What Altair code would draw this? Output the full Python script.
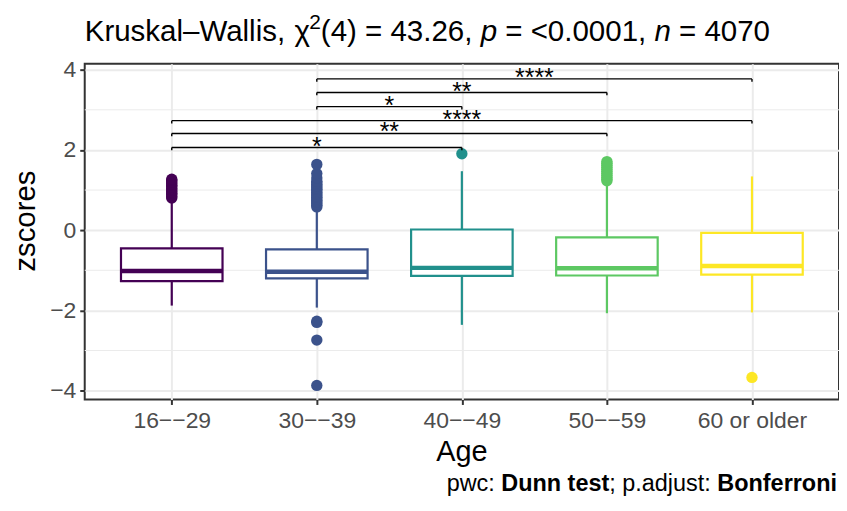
import altair as alt
import pandas as pd

# ---------------- data ----------------
groups = ["16−−29", "30−−39", "40−−49", "50−−59", "60 or older"]
colors = ["#440154", "#3B528B", "#21908C", "#5DC863", "#FDE725"]
q1 = [-1.27, -1.20, -1.14, -1.13, -1.11]
median = [-1.02, -1.035, -0.94, -0.95, -0.895]
q3 = [-0.455, -0.48, 0.017, -0.18, -0.066]
whisker_lo = [-1.88, -1.93, -2.36, -2.07, -2.05]
whisker_hi = [0.74, 0.52, 1.47, 1.12, 1.34]

outliers = {
    "16−−29": [0.80, 0.84, 0.88, 0.92, 0.96, 1.00, 1.04, 1.08, 1.12, 1.16, 1.20, 1.24, 1.27],
    "30−−39": [0.58, 0.62, 0.66, 0.70, 0.74, 0.78, 0.82, 0.86, 0.90, 0.94, 0.98, 1.02, 1.06,
               1.10, 1.14, 1.18, 1.22, 1.30, 1.41, 1.64, -2.27, -2.30, -2.74, -3.87],
    "40−−49": [1.905],
    "50−−59": [1.23, 1.27, 1.32, 1.37, 1.42, 1.47, 1.52, 1.57, 1.62, 1.67, 1.71],
    "60 or older": [-3.67],
}

# pairwise comparisons (Dunn test)
pair_g1 = ["30−−39", "30−−39", "30−−39", "16−−29", "16−−29", "16−−29"]
pair_g2 = ["60 or older", "50−−59", "40−−49", "60 or older", "50−−59", "40−−49"]
pair_y = [3.77, 3.43, 3.08, 2.73, 2.41, 2.06]
pair_label = ["****", "**", "*", "****", "**", "*"]

y_ticks = [-4, -2, 0, 2, 4]
y_minor = [-3, -1, 1, 3]

# ---------------- tables ----------------
idx_of = {g: i + 1 for i, g in enumerate(groups)}
box_df = pd.DataFrame({
    "group": groups, "idx": [idx_of[g] for g in groups],
    "q1": q1, "median": median, "q3": q3, "lo": whisker_lo, "hi": whisker_hi,
})
box_df["left"] = box_df["idx"] - 0.35
box_df["right"] = box_df["idx"] + 0.35

out_rows = []
for g, vals in outliers.items():
    for v in vals:
        out_rows.append({"group": g, "idx": idx_of[g], "value": v})
out_df = pd.DataFrame(out_rows)

pair_df = pd.DataFrame({"g1": pair_g1, "g2": pair_g2, "y": pair_y, "label": pair_label})
pair_df["x1"] = pair_df["g1"].map(idx_of)
pair_df["x2"] = pair_df["g2"].map(idx_of)
pair_df["xm"] = (pair_df["x1"] + pair_df["x2"]) / 2
pair_df["ytip"] = pair_df["y"] - 0.07

minor_df = pd.DataFrame({"v": y_minor})

FONT = "Liberation Sans"
color_scale = alt.Scale(domain=groups, range=colors)
xscale = alt.Scale(domain=[0.4, 5.6], nice=False, zero=False)
yscale = alt.Scale(domain=[-4.22, 4.15], nice=False, zero=False)

label_expr = "[" + ",".join("'%s'" % g for g in groups) + "][datum.value - 1]"
xaxis = alt.Axis(values=list(range(1, len(groups) + 1)), labelExpr=label_expr, title=None,
                 grid=True, gridColor="#EBEBEB", gridWidth=2, domain=False,
                 tickColor="#333333", tickWidth=2, tickSize=5,
                 labelColor="#4D4D4D", labelFontSize=23, labelFont=FONT, labelPadding=5)
yaxis = alt.Axis(values=y_ticks, format="d", title=None,
                 labelExpr="replace(datum.label, '-', '−')",
                 grid=True, gridColor="#EBEBEB", gridWidth=2, domain=False,
                 tickColor="#333333", tickWidth=2, tickSize=5,
                 labelColor="#4D4D4D", labelFontSize=23, labelFont=FONT, labelPadding=4)

col = alt.Color("group:N", scale=color_scale, legend=None)

minor = alt.Chart(minor_df).mark_rule(color="#EBEBEB", strokeWidth=1).encode(
    y=alt.Y("v:Q", scale=yscale, axis=yaxis))

base = alt.Chart(box_df)
wlo = base.mark_rule(strokeWidth=2.2).encode(
    x=alt.X("idx:Q", scale=xscale, axis=xaxis), y=alt.Y("lo:Q", scale=yscale), y2="q1:Q", color=col)
whi = base.mark_rule(strokeWidth=2.2).encode(
    x=alt.X("idx:Q", scale=xscale), y=alt.Y("q3:Q", scale=yscale), y2="hi:Q", color=col)
box = base.mark_bar(fill="white", strokeWidth=2.2).encode(
    x=alt.X("left:Q", scale=xscale), x2="right:Q",
    y=alt.Y("q1:Q", scale=yscale), y2="q3:Q",
    stroke=alt.Stroke("group:N", scale=color_scale, legend=None))
med = base.mark_rule(strokeWidth=4.5).encode(
    x=alt.X("left:Q", scale=xscale), x2="right:Q", y=alt.Y("median:Q", scale=yscale), color=col)

pts = alt.Chart(out_df).mark_circle(size=130, opacity=1).encode(
    x=alt.X("idx:Q", scale=xscale), y=alt.Y("value:Q", scale=yscale), color=col)

pb = alt.Chart(pair_df)
hline = pb.mark_rule(color="black", strokeWidth=1.4).encode(
    x=alt.X("x1:Q", scale=xscale), x2="x2:Q", y=alt.Y("y:Q", scale=yscale))
tip1 = pb.mark_rule(color="black", strokeWidth=1.4).encode(
    x=alt.X("x1:Q", scale=xscale), y=alt.Y("y:Q", scale=yscale), y2="ytip:Q")
tip2 = pb.mark_rule(color="black", strokeWidth=1.4).encode(
    x=alt.X("x2:Q", scale=xscale), y=alt.Y("y:Q", scale=yscale), y2="ytip:Q")
plab = pb.mark_text(fontSize=25, font=FONT, baseline="alphabetic", dy=7, color="black").encode(
    x=alt.X("xm:Q", scale=xscale), y=alt.Y("y:Q", scale=yscale), text="label:N")

one = pd.DataFrame({"a": [0]})


def ann(text, x, y, size, **kw):
    return alt.Chart(one).mark_text(text=text, fontSize=size, font=FONT, **kw).encode(
        x=alt.value(x), y=alt.value(y))


# title: rich text laid out with Arial/Liberation metrics
T = 29.6
title_y = -23
gap = 8.2
segs = [("Kruskal–Wallis,", 6834, T, "normal", 0), ("χ", 500, T, "normal", 0),
        ("2", 556, 21, "normal", -12), ("(4) = 43.26,", 5142, T, "normal", 0),
        ("p", 556, T, "italic", 0), ("= <0.0001,", 4782, T, "normal", 0),
        ("n", 556, T, "italic", 0), ("= 4070", 3086, T, "normal", 0)]
title_parts = []
xcur = 0.0
for i, (s, w, size, style, rise) in enumerate(segs):
    joined = s in ("2", "(4) = 43.26,")  # superscript and bracket follow chi directly
    if i > 0 and not joined:
        xcur += gap
    title_parts.append(ann(s, xcur, title_y + rise, size, align="left",
                           baseline="alphabetic", color="black", fontStyle=style))
    xcur += w * size / 1000

ytitle = ann("zscores", -50, 158, 29.5, angle=270, align="center", baseline="alphabetic", color="black")
xtitle = ann("Age", 378.5, 399, 29, align="center", baseline="alphabetic", color="black")

# caption: right aligned rich text, widths from Arial/Liberation metrics
REG = {" ": 278, "p": 556, "w": 722, "c": 500, ":": 278, ";": 278, ".": 278, "a": 556,
       "d": 556, "j": 222, "u": 556, "s": 500, "t": 278}
BLD = {" ": 278, "D": 722, "u": 611, "n": 611, "t": 333, "e": 556, "s": 556, "B": 722,
       "o": 611, "f": 333, "r": 389, "i": 278}
cap_size = 23.5
cap_segments = [("pwc: ", False), ("Dunn test", True), ("; p.adjust: ", False), ("Bonferroni", True)]
widths = [sum((BLD if b else REG)[ch] for ch in s) * cap_size / 1000 for s, b in cap_segments]
right_edge = 755
cap_y = 429
cap_parts = []
xpos = right_edge - sum(widths)
for (s, b), w in zip(cap_segments, widths):
    cap_parts.append(ann(s.strip(), xpos, cap_y, cap_size, align="left", baseline="alphabetic",
                         color="black", fontWeight="bold" if b else "normal"))
    xpos += w

chart = alt.layer(
    minor, wlo, whi, box, med, pts, hline, tip1, tip2, plab,
    *title_parts, ytitle, xtitle, *cap_parts
).properties(
    width=757, height=337,
    autosize=alt.AutoSizeParams(type="none"),
    padding={"left": 77, "top": 55, "right": 0, "bottom": 97},
    background="white",
).configure(font=FONT).configure_view(stroke="#333333", strokeWidth=2)

chart.save("out.html", embed_options={"renderer": "svg", "actions": False})
